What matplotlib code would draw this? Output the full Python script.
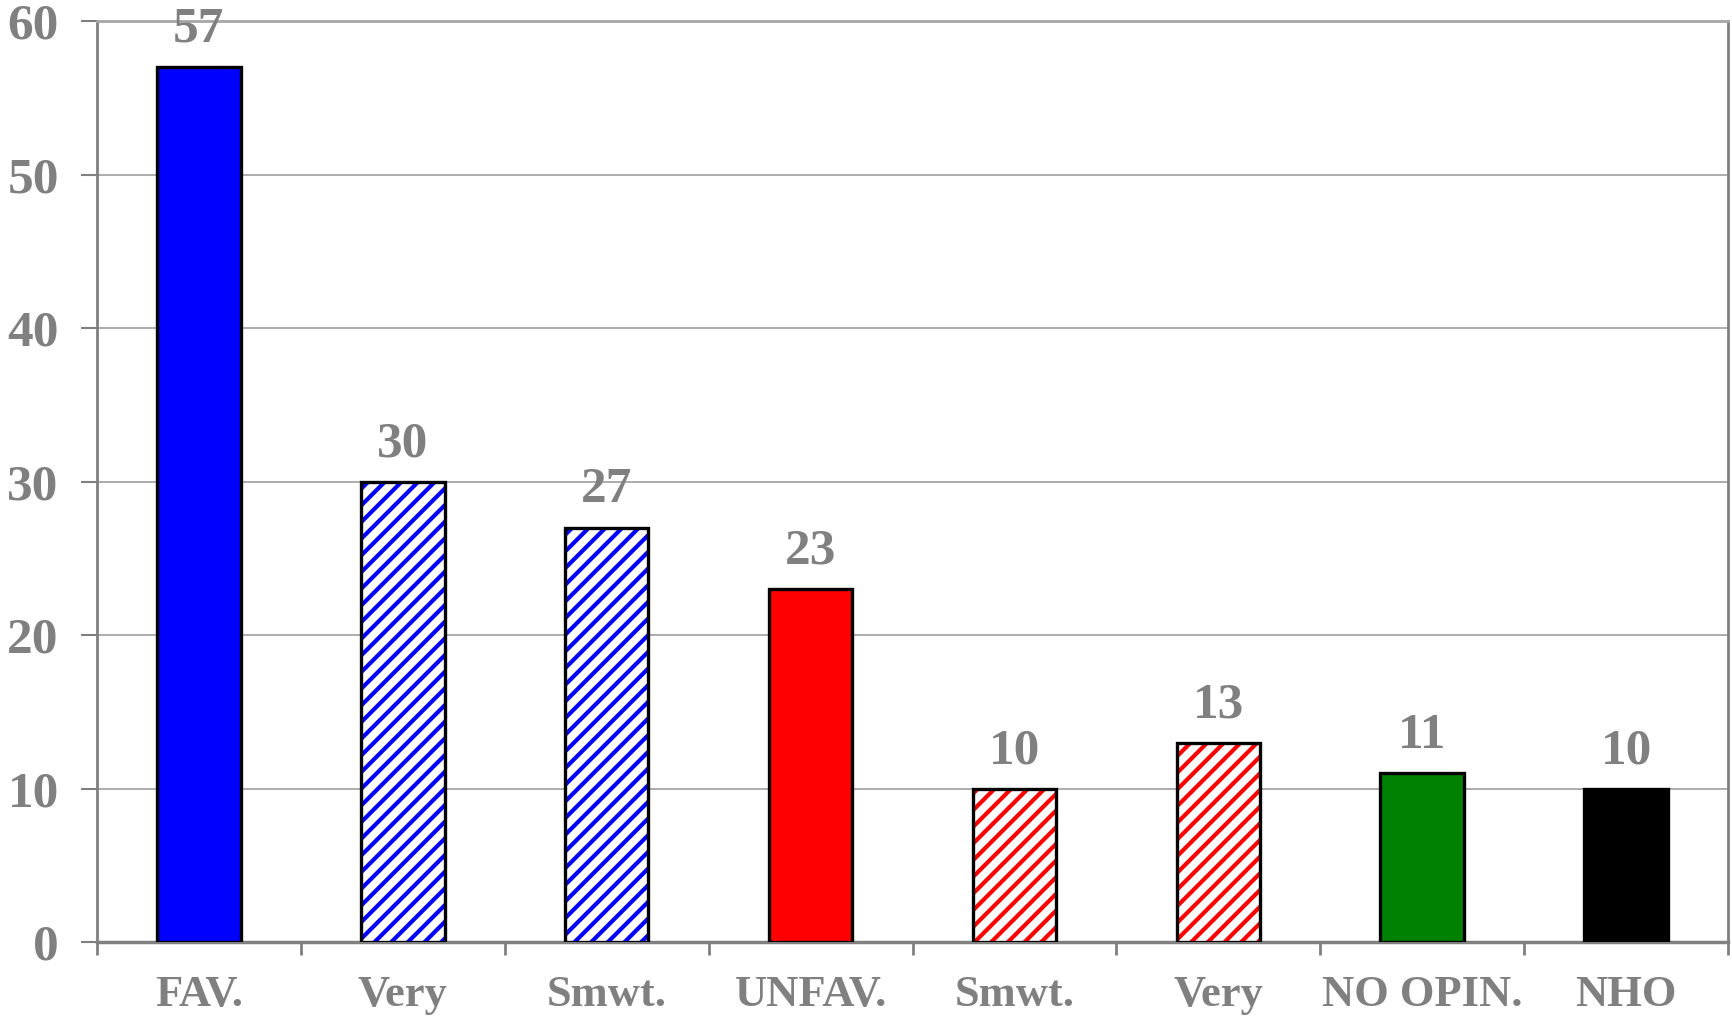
import numpy as np
import matplotlib.pyplot as plt

categories = ['FAV.', 'Very', 'Smwt.', 'UNFAV.', 'Smwt.', 'Very', 'NO OPIN.', 'NHO']
values = [57, 30, 27, 23, 10, 13, 11, 10]
colors = ['#0000ff', '#0000ff', '#0000ff', '#ff0000', '#ff0000', '#ff0000', '#008000', '#000000']
hatched = [False, True, True, False, True, True, False, False]

plt.rcParams['font.family'] = ['Liberation Serif', 'DejaVu Serif']
plt.rcParams['font.weight'] = 'bold'
plt.rcParams['hatch.linewidth'] = 3.0

gray = '#808080'
fig = plt.figure(figsize=(17.32, 10.17), dpi=100)
ax = fig.add_axes([0.056, 0.0737, 0.9417, 0.9053])

x = np.arange(len(categories))
w = 0.41
for i in range(len(categories)):
    if hatched[i]:
        ax.bar(x[i], values[i], w, facecolor='white', edgecolor=colors[i],
               hatch='//', linewidth=0, zorder=3)
        ax.bar(x[i], values[i], w, facecolor='none', edgecolor='black',
               linewidth=2.4, zorder=4)
    else:
        ax.bar(x[i], values[i], w, color=colors[i], edgecolor='black',
               linewidth=2.4, zorder=3)
    ax.annotate(str(values[i]), (x[i], values[i]), xytext=(0, 27),
                textcoords='offset points', ha='center', va='center',
                fontsize=37, fontweight='bold', color=gray)

ax.set_xlim(-0.5, len(categories) - 0.5)
ax.set_ylim(0, 60)
ax.set_yticks(np.arange(0, 61, 10))
ax.set_xticks(x)
ax.set_xticklabels(categories)
ax.set_xticks(np.arange(-0.5, len(categories), 1), minor=True)
ax.tick_params(axis='x', which='major', length=0, pad=24, labelsize=32, labelcolor=gray)
ax.tick_params(axis='x', which='minor', length=9, width=2, color=gray, direction='out')
ax.tick_params(axis='y', length=11.5, width=1.5, color=gray, pad=16, labelsize=37, labelcolor=gray)
for lab in ax.get_xticklabels() + ax.get_yticklabels():
    lab.set_fontweight('bold')

ax.grid(axis='y', color='#a6a6a6', linewidth=1.3, zorder=0)
ax.set_axisbelow(True)
for s in ax.spines.values():
    s.set_color(gray)
    s.set_linewidth(2)
ax.spines['bottom'].set_linewidth(2.5)
ax.spines['top'].set_color('#a6a6a6')

fig.savefig('out.png', dpi=100)
